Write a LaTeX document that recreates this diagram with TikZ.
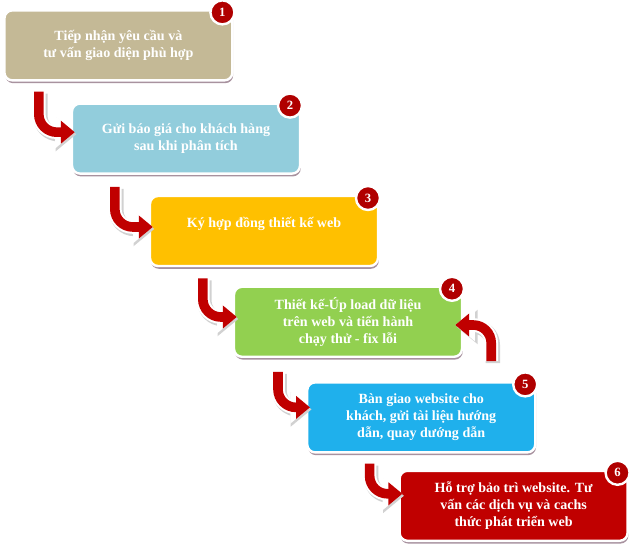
\documentclass[tikz,border=0pt]{standalone}
\usepackage{fontspec}
\setmainfont{Liberation Serif}
\usetikzlibrary{arrows.meta,shadows}

\definecolor{boxtan}{HTML}{C4B996}
\definecolor{boxsky}{HTML}{92CDDC}
\definecolor{boxamber}{HTML}{FFC000}
\definecolor{boxgreen}{HTML}{92D050}
\definecolor{boxblue}{HTML}{1FB0EC}
\definecolor{boxred}{HTML}{C00000}
\definecolor{badgered}{HTML}{B00000}
\definecolor{shadowmauve}{HTML}{A8929F}

\begin{document}
\begin{tikzpicture}[
    stepbox/.style={draw=white, line width=0.06cm, rounded corners=0.2cm,
      minimum width=5.7cm, minimum height=1.75cm, align=center, text=white,
      font=\fontsize{10}{12}\selectfont\bfseries,
      drop shadow={shadow xshift=0.02cm, shadow yshift=-0.07cm, fill=shadowmauve, opacity=1}},
    numbadge/.style={circle, fill=badgered, draw=white, line width=0.06cm,
      minimum size=0.6cm, inner sep=0pt, text=white,
      font=\fontsize{9}{9}\selectfont\bfseries},
    flow/.style={draw=boxred, line width=0.24cm, rounded corners=0.45cm,
      -{Triangle[width=0pt 2.3, length=0pt 1.45]},
      preaction={draw=black!18, line width=0.36cm, transform canvas={shift={(0.04,-0.05)}}},
      preaction={draw=white, line width=0.34cm}}
  ]
    \useasboundingbox (0, 0) rectangle (16, 13.825);

    \node[stepbox, fill=boxtan] (b1) at (2.96, 12.69)
      {Tiếp nhận yêu cầu và\\tư vấn giao diện phù hợp};
    \node[stepbox, fill=boxsky] (b2) at (4.65, 10.36)
      {Gửi báo giá cho khách hàng\\sau khi phân tích};
    \node[stepbox, fill=boxamber] (b3) at (6.6, 8.05)
      {Ký hợp đồng thiết kế web\\~};
    \node[stepbox, fill=boxgreen] (b4) at (8.7, 5.78)
      {Thiết kế-Úp load dữ liệu\\trên web và tiến hành\\chạy thử - fix lỗi};
    \node[stepbox, fill=boxblue] (b5) at (10.53, 3.39)
      {Bàn giao website cho\\khách, gửi tài liệu hướng\\dẫn, quay dướng dẫn};
    \node[stepbox, fill=boxred] (b6) at (12.84, 1.18)
      {Hỗ trợ bảo trì website. Tư\\vấn các dịch vụ và cachs\\thức phát triển web};

    \node[numbadge] (n1) at ([shift={(-0.28,-0.08)}]b1.north east) {1};
    \node[numbadge] (n2) at ([shift={(-0.28,-0.08)}]b2.north east) {2};
    \node[numbadge] (n3) at ([shift={(-0.28,-0.08)}]b3.north east) {3};
    \node[numbadge] (n4) at ([shift={(-0.28,-0.08)}]b4.north east) {4};
    \node[numbadge] (n5) at ([shift={(-0.28,-0.08)}]b5.north east) {5};
    \node[numbadge] (n6) at ([shift={(-0.28,-0.08)}]b6.north east) {6};

    \draw[flow] ([xshift=-0.8cm, yshift=-0.25cm]b2.west |- b1.south)
      |- ([xshift=0.1cm, yshift=0.16cm]b2.west);
    \draw[flow] ([xshift=-0.85cm, yshift=-0.3cm]b3.west |- b2.south)
      |- ([xshift=0.1cm, yshift=0.1cm]b3.west);
    \draw[flow] ([xshift=-0.75cm, yshift=-0.28cm]b4.west |- b3.south)
      |- ([xshift=0.1cm, yshift=0.12cm]b4.west);
    \draw[flow] ([xshift=-0.7cm, yshift=-0.35cm]b5.west |- b4.south)
      |- ([xshift=0.1cm, yshift=0.25cm]b5.west);
    \draw[flow] ([xshift=-0.72cm, yshift=-0.25cm]b6.west |- b5.south)
      |- ([xshift=0.1cm, yshift=0.3cm]b6.west);
    \draw[flow] ([xshift=0.7cm, yshift=0.5cm]b4.east |- b5.north)
      |- ([xshift=-0.2cm, yshift=-0.08cm]b4.east);

  \end{tikzpicture}
\end{document}
